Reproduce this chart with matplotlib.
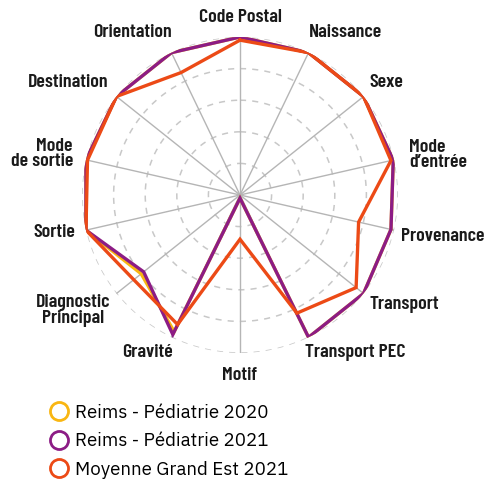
import numpy as np
import matplotlib.pyplot as plt
from matplotlib.lines import Line2D

# axes, clockwise from the top
categories = ["Code Postal", "Naissance", "Sexe", "Mode\nd\u2019entrée", "Provenance",
              "Transport", "Transport PEC", "Motif", "Gravité", "Diagnostic\nPrincipal",
              "Sortie", "Mode\nde sortie", "Destination", "Orientation"]

reims_2020 = [100, 100, 100, 99.5, 98, 100, 100, 2, 96, 80, 100, 100, 100, 100]
reims_2021 = [100, 100, 100, 99.5, 98, 100, 100, 2, 98, 78, 100, 100, 100, 100]
grand_est_2021 = [98, 100, 100, 98, 77, 94, 83, 28, 91, 86, 100, 99, 100, 86]

series_names = ["Reims - Pédiatrie 2020", "Reims - Pédiatrie 2021", "Moyenne Grand Est 2021"]
colors = ["#F9B612", "#8C1C85", "#EC4A16"]

label_font = ["Barlow Condensed", "DejaVu Sans"]
legend_font = ["IBM Plex Sans", "DejaVu Sans"]

# label placement: pixel offset from the spoke end, and horizontal anchor
label_offsets = [(0, 20, "center"), (0, 20, "left"), (6, 14, "left"), (15, 5, "left"),
                 (7, -6, "left"), (6, -11, "left"), (-4, -15, "left"), (0, -22, "center"),
                 (1, -15, "right"), (-6, -17, "right"), (-11, -2, "right"), (-13, 6, "right"),
                 (-8, 14, "right"), (0, 20, "right")]

n = len(categories)
angles = np.arange(n) * 2 * np.pi / n

fig = plt.figure(figsize=(4.91, 4.80), dpi=100)
cx, cy, rad = 240 / 491, 1 - 195 / 480, 158
ax = fig.add_axes([cx - rad / 491, cy - rad / 480, 2 * rad / 491, 2 * rad / 480],
                  projection="polar")
ax.set_theta_zero_location("N")
ax.set_theta_direction(-1)
ax.set_ylim(0, 100)
ax.set_xticks([])
ax.set_yticks([])
ax.grid(False)
ax.spines["polar"].set_visible(False)

# dashed rings and solid spokes
ring_t = np.linspace(0, 2 * np.pi, 400)
for r in [20, 40, 60, 80, 100]:
    ax.plot(ring_t, np.full_like(ring_t, r), color="#c8c8c8", lw=1.1,
            ls=(0, (4, 4)), zorder=1)
for a in angles:
    ax.plot([a, a], [0, 100], color="#b5b5b5", lw=1.0, zorder=2)

# series: orange below, purple on top
order = [(grand_est_2021, 2), (reims_2020, 0), (reims_2021, 1)]
for vals, ci in order:
    v = list(vals) + [vals[0]]
    t = list(angles) + [angles[0]]
    ax.plot(t, v, color=colors[ci], lw=2.4, solid_joinstyle="miter", zorder=3 + ci)

# axis labels
for a, lab, (dx, dy, ha) in zip(angles, categories, label_offsets):
    ax.annotate(lab, xy=(a, 100), xytext=(dx, dy), textcoords="offset pixels",
                ha=ha, va="center", fontsize=14.3, fontweight="semibold",
                family=label_font, color="#1a1a1a", linespacing=0.85,
                multialignment="center" if "Diagnostic" in lab else ha,
                annotation_clip=False)

handles = [Line2D([], [], ls="none", marker="o", markersize=13, markerfacecolor="white",
                  markeredgecolor=c, markeredgewidth=2.0) for c in colors]
fig.legend(handles, series_names, loc="upper left", bbox_to_anchor=(31 / 491, 1 - 387 / 480),
           frameon=False, prop={"family": legend_font, "size": 13.5},
           handletextpad=0.3, labelspacing=0.56, handlelength=1.15)

fig.savefig("out.png", dpi=100)
